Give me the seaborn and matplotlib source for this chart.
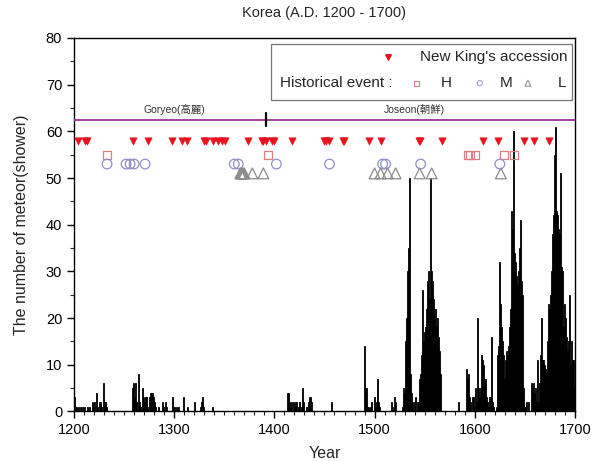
import numpy as np
import pandas as pd
import seaborn as sns
import matplotlib
matplotlib.use("Agg")
import matplotlib.pyplot as plt
from matplotlib.ticker import MultipleLocator
from matplotlib.patches import Rectangle

# ---------------- data ----------------
years = [
    1200, 1201, 1202, 1203, 1205, 1207, 1209, 1211, 1213, 1215, 1218, 1219, 1220, 1222, 1223,
    1225, 1226, 1227, 1229, 1230, 1231, 1232,
    1258, 1259, 1260, 1261, 1262, 1264, 1265, 1266, 1268, 1269, 1270, 1271, 1272, 1273, 1275,
    1276, 1277, 1278, 1279, 1280, 1281, 1284, 1288, 1289, 1291, 1292, 1298, 1299, 1301, 1303,
    1304, 1309, 1313, 1320, 1326, 1327, 1328, 1329, 1338,
    1413, 1414, 1415, 1416, 1417, 1419, 1420, 1421, 1422, 1424, 1425, 1427, 1428, 1429, 1432,
    1434, 1435, 1436, 1437, 1457,
    1490, 1491, 1492, 1493, 1494, 1496, 1497, 1500, 1501, 1502, 1503, 1504, 1505, 1517, 1518,
    1520, 1521,
    1528, 1529, 1530, 1531, 1532, 1533, 1534, 1535, 1536, 1537, 1538, 1540, 1541, 1543, 1544,
    1545, 1546, 1547, 1548, 1549, 1550, 1551, 1552, 1553, 1554, 1555, 1556, 1557, 1558, 1559,
    1560, 1561, 1562, 1563, 1564, 1565, 1566,
    1584, 1592, 1593, 1594, 1595, 1596, 1598, 1599, 1600, 1601, 1602, 1603, 1604, 1605, 1606,
    1607, 1608, 1609, 1610, 1611, 1612, 1613, 1614, 1615, 1616, 1617, 1618, 1619, 1622, 1623,
    1624, 1625, 1626, 1627, 1628, 1629, 1630, 1631, 1632, 1633, 1634, 1635, 1636, 1637, 1638,
    1639, 1640, 1641, 1642, 1643, 1644, 1645, 1646, 1647, 1648, 1649, 1650, 1651, 1652, 1654,
    1657, 1658, 1659, 1660, 1661, 1662, 1663, 1664, 1665, 1666, 1667, 1668, 1669, 1670, 1671,
    1672, 1673, 1674, 1675, 1676, 1677, 1678, 1679, 1680, 1681, 1682, 1683, 1684, 1685, 1686,
    1687, 1688, 1689, 1690, 1691, 1692, 1693, 1694, 1695, 1696, 1697, 1698, 1699, 1700,
]
counts = [
    8, 3, 1, 1, 1, 1, 1, 1, 1, 1, 2, 1, 2, 4, 1,
    2, 2, 1, 6, 2, 2, 1,
    5, 6, 3, 6, 2, 8, 2, 1, 5, 3, 2, 3, 3, 1, 3,
    4, 4, 4, 3, 2, 1, 1, 2, 1, 2, 1, 3, 1, 1, 1,
    1, 3, 1, 2, 1, 2, 3, 1, 1,
    4, 4, 2, 1, 2, 2, 1, 2, 2, 1, 2, 1, 5, 2, 1,
    2, 3, 3, 2, 2,
    14, 5, 5, 1, 1, 1, 2, 3, 1, 2, 7, 2, 1, 2, 1,
    3, 2,
    1, 5, 4, 15, 20, 30, 35, 50, 8, 4, 2, 2, 3, 2, 2,
    7, 8, 12, 26, 15, 17, 18, 22, 28, 30, 24, 50, 30, 28, 24,
    20, 22, 18, 20, 16, 13, 8,
    2, 9, 7, 8, 3, 2, 3, 3, 1, 5, 2, 20, 5, 3, 5,
    12, 11, 10, 6, 7, 3, 2, 1, 3, 3, 16, 2, 1, 1, 12,
    14, 32, 23, 18, 15, 12, 7, 11, 13, 12, 14, 18, 22, 43, 39,
    60, 34, 32, 29, 27, 30, 35, 41, 28, 25, 5, 1, 1, 2, 2,
    6, 5, 6, 4, 5, 2, 11, 2, 6, 12, 20, 11, 11, 10, 9,
    8, 15, 23, 22, 25, 30, 38, 42, 55, 61, 43, 42, 39, 38, 51,
    31, 30, 18, 23, 20, 16, 13, 15, 25, 10, 15, 11, 11, 5,
]

king_years = [1204, 1211, 1213, 1259, 1274, 1298, 1308, 1313, 1330, 1332, 1339, 1344, 1348,
              1351, 1374, 1388, 1389, 1392, 1398, 1400, 1418, 1450, 1452, 1455, 1468, 1469,
              1494, 1506, 1544, 1545, 1567, 1608, 1623, 1649, 1659, 1674]
event_h_years = [1233, 1394, 1593, 1595, 1600, 1629, 1639]
event_m_years = [1233, 1252, 1256, 1260, 1271, 1360, 1364, 1402, 1455, 1508, 1511, 1546, 1625]
event_l_years = [1366, 1367, 1368, 1369, 1370, 1378, 1389, 1500, 1506, 1513, 1521, 1545,
                 1557, 1626]

king_level = 58
h_level = 55
m_level = 53
l_level = 51
dynasty_line_level = 62.5
dynasty_change_year = 1392

# ---------------- style ----------------
sns.set_style("ticks")
plt.rcParams["font.family"] = ["Liberation Sans", "Noto Sans CJK KR", "DejaVu Sans"]

fig = plt.figure(figsize=(5.99, 4.61), dpi=100)
ax = fig.add_axes([0.1235, 0.1074, 0.8364, 0.8102])

df = pd.DataFrame({"year": years, "count": counts})
sns.histplot(data=df, x="year", weights="count", discrete=True, color="black",
             alpha=1, edgecolor="black", linewidth=0.6, ax=ax)

# event markers
sns.scatterplot(x=king_years, y=[king_level] * len(king_years), marker="v", s=28,
                color="#e8121c", edgecolor="#e8121c", linewidth=0.4, ax=ax, zorder=5)
sns.scatterplot(x=event_h_years, y=[h_level] * len(event_h_years), marker="s", s=34,
                facecolor="none", edgecolor="#d98080", linewidth=0.9, ax=ax, zorder=5)
sns.scatterplot(x=event_m_years, y=[m_level] * len(event_m_years), marker="o", s=48,
                facecolor="none", edgecolor="#8f8fc8", linewidth=0.9, ax=ax, zorder=5)
sns.scatterplot(x=event_l_years, y=[l_level] * len(event_l_years), marker="^", s=60,
                facecolor="none", edgecolor="#8a8a8a", linewidth=0.9, ax=ax, zorder=5)

# dynasty line
ax.axhline(dynasty_line_level, color="#a0309a", lw=1.3, zorder=4)
ax.plot([dynasty_change_year, dynasty_change_year], [61.1, 63.9], color="black", lw=1.6,
        zorder=6)
ax.text(1300, 64.6, "Goryeo(高麗)", ha="center", va="center", fontsize=7.5, color="#333333")
ax.text(1540, 64.6, "Joseon(朝鮮)", ha="center", va="center", fontsize=7.5, color="#333333")

# axes formatting
ax.set_xlim(1200, 1700)
ax.set_ylim(0, 80)
ax.xaxis.set_major_locator(MultipleLocator(100))
ax.xaxis.set_minor_locator(MultipleLocator(10))
ax.yaxis.set_major_locator(MultipleLocator(10))
ax.yaxis.set_minor_locator(MultipleLocator(5))
ax.tick_params(axis="both", which="major", direction="out", length=5, width=1,
               labelsize=10.5, colors="black")
ax.tick_params(axis="both", which="minor", direction="out", length=3, width=0.8)
for sp in ax.spines.values():
    sp.set_visible(True)
    sp.set_linewidth(1.0)
    sp.set_color("black")
ax.set_xlabel("Year", fontsize=11.5, labelpad=6)
ax.set_ylabel("The number of meteor(shower)", fontsize=11.5, labelpad=12)
ax.set_title("Korea (A.D. 1200 - 1700)", fontsize=10.5, pad=15)

# custom legend box
T = ax.transAxes
ax.add_patch(Rectangle((0.393, 0.834), 0.601, 0.150, transform=T, facecolor="white",
                       edgecolor="#777777", lw=0.9, zorder=7))
ax.scatter([0.627], [0.950], transform=T, marker="v", s=16, color="#e8121c", zorder=8)
ax.text(0.986, 0.950, "New King's accession", transform=T, ha="right", va="center",
        fontsize=11, zorder=8)
ax.text(0.411, 0.879, "Historical event :", transform=T, ha="left", va="center",
        fontsize=11, zorder=8)
ax.scatter([0.683], [0.879], transform=T, marker="s", s=14, facecolor="none",
           edgecolor="#d98080", lw=0.8, zorder=8)
ax.text(0.743, 0.879, "H", transform=T, ha="center", va="center", fontsize=11, zorder=8)
ax.scatter([0.810], [0.879], transform=T, marker="o", s=14, facecolor="none",
           edgecolor="#a0a0c8", lw=0.8, zorder=8)
ax.text(0.862, 0.879, "M", transform=T, ha="center", va="center", fontsize=11, zorder=8)
ax.scatter([0.906], [0.879], transform=T, marker="^", s=18, facecolor="none",
           edgecolor="#909090", lw=0.8, zorder=8)
ax.text(0.974, 0.879, "L", transform=T, ha="center", va="center", fontsize=11, zorder=8)

fig.savefig("out.png", dpi=100)
